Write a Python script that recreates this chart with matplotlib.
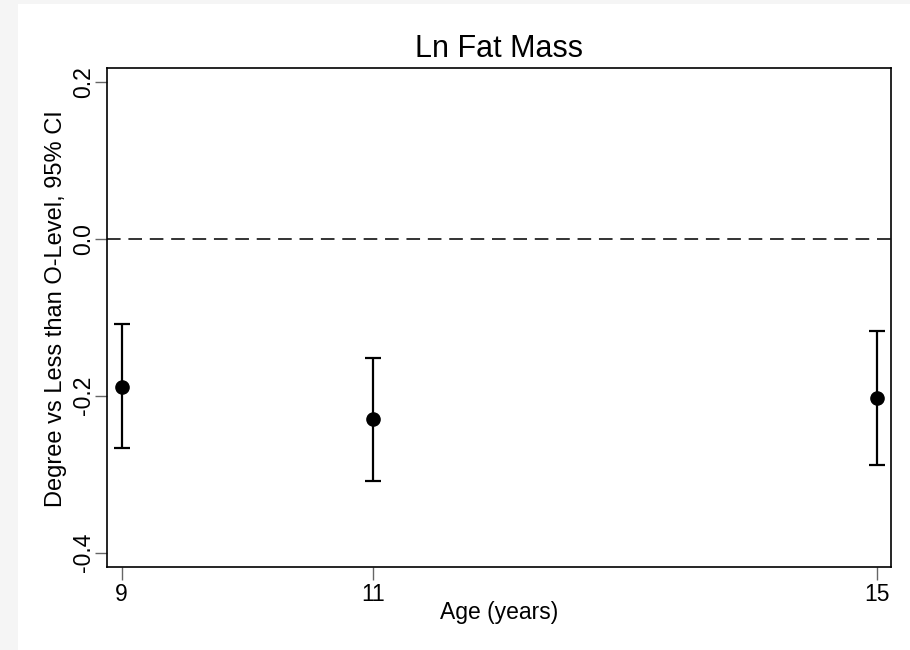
import matplotlib.pyplot as plt
from matplotlib.patches import Rectangle

plt.rcParams['font.family'] = ['Liberation Sans', 'DejaVu Sans']

ages = [9, 11, 15]
estimates = [-0.1885, -0.230, -0.2033]
ci_upper = [-0.109, -0.1524, -0.1176]
ci_lower = [-0.2667, -0.3087, -0.2887]
yticks = [-0.4, -0.2, 0.0, 0.2]
ytick_labels = ["-0.4", "-0.2", "0.0", "0.2"]

W, H = 910, 650
fig = plt.figure(figsize=(9.1, 6.5), dpi=100)
fig.patch.set_facecolor("white")
# light grey strips on the left and top edges
fig.add_artist(Rectangle((0, 0), 18 / W, 1, transform=fig.transFigure,
                         facecolor="#f5f5f5", edgecolor="none", zorder=-1))
fig.add_artist(Rectangle((0, 1 - 4 / H), 1, 4 / H, transform=fig.transFigure,
                         facecolor="#f5f5f5", edgecolor="none", zorder=-1))

left, right, top, bottom = 107.3, 890.7, 67.7, 566.7
ax = fig.add_axes([left / W, 1 - bottom / H, (right - left) / W, (bottom - top) / H])

lower_err = [e - l for e, l in zip(estimates, ci_lower)]
upper_err = [u - e for e, u in zip(estimates, ci_upper)]
ax.errorbar(ages, estimates, yerr=[lower_err, upper_err], fmt="o", color="black",
            markersize=9.5, elinewidth=1.6, capsize=6, capthick=1.6, zorder=3)
ax.axhline(0, color="#333333", linestyle=(0, (7, 4)), linewidth=1.4)

ax.set_xlim(8.886, 15.109)
ax.set_ylim(-0.4178, 0.2178)
ax.set_xticks(ages)
ax.set_xticklabels([str(a) for a in ages])
ax.set_yticks(yticks)
ax.set_yticklabels(ytick_labels, rotation=90, va="center")
ax.tick_params(axis="both", length=9, width=1, color="#666666", labelsize=16.5, pad=3)
ax.tick_params(axis="y", pad=0)
for s in ax.spines.values():
    s.set_linewidth(1.2)
    s.set_color("black")

ax.set_title("Ln Fat Mass", fontsize=22, pad=8)
ax.set_xlabel("Age (years)", fontsize=16.5, labelpad=-4)
ax.set_ylabel("Degree vs Less than O-Level, 95% CI", fontsize=17)
ax.yaxis.set_label_coords(-0.052, 0.518)

fig.savefig("out.png", dpi=100, facecolor=fig.get_facecolor())
